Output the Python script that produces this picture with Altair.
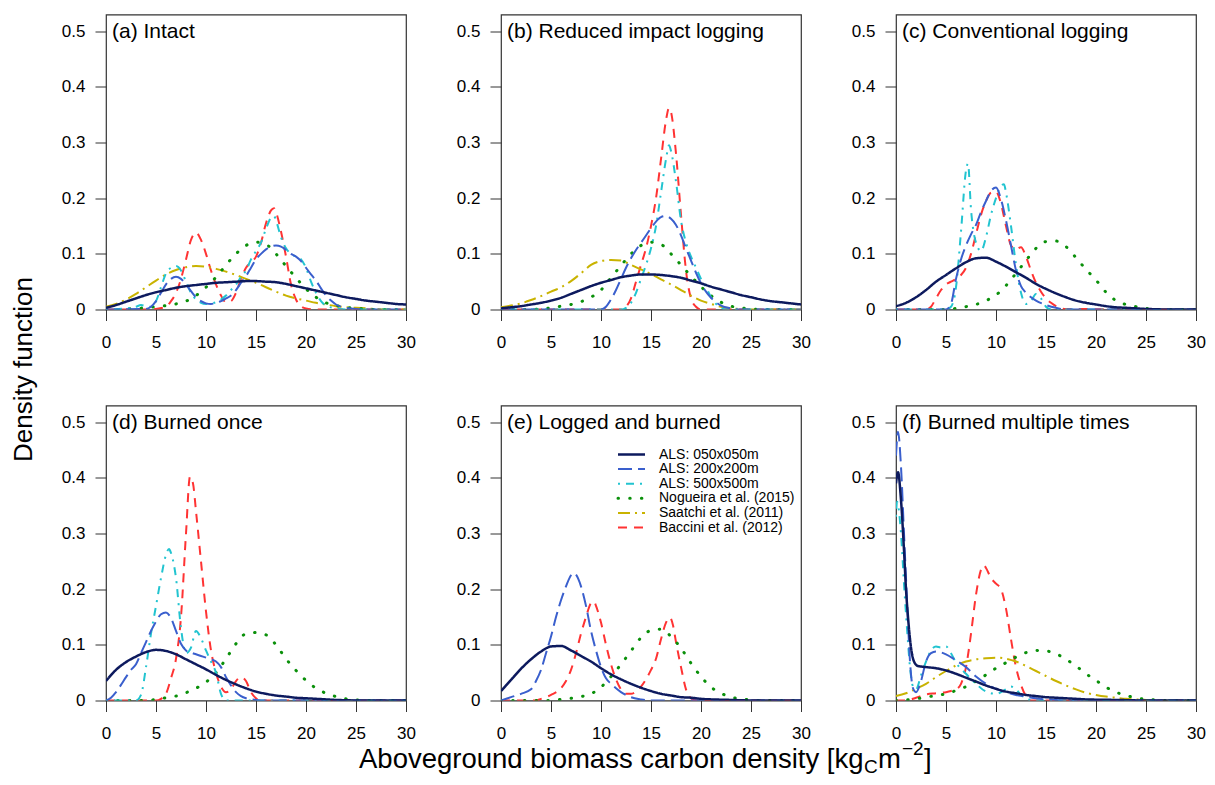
import altair as alt
import pandas as pd

FONT = "Liberation Sans"

SERIES = ["ALS: 050x050m", "ALS: 200x200m", "ALS: 500x500m",
          "Nogueira et al. (2015)", "Saatchi et al. (2011)", "Baccini et al. (2012)"]
KEYS = ["navy", "blue", "cyan", "green", "yellow", "red"]
COLORS = {"navy": "#0d1a5e", "blue": "#3a5fcd", "cyan": "#22c4d0",
          "green": "#0a900a", "yellow": "#c9b300", "red": "#ff3333"}
DASHES = {"navy": [1, 0], "blue": [14, 6], "cyan": [2, 6, 8, 6],
          "green": [0.5, 11.2], "yellow": [12, 5, 2, 5], "red": [9, 7]}
WIDTHS = {"navy": 2.5, "blue": 2, "cyan": 2, "green": 3, "yellow": 2, "red": 2}
CAPS = {"navy": "butt", "blue": "butt", "cyan": "butt", "green": "round",
        "yellow": "butt", "red": "butt"}
DRAW_ORDER = ["red", "yellow", "green", "cyan", "blue", "navy"]

PANEL_TITLES = ["(a) Intact", "(b) Reduced impact logging", "(c) Conventional logging",
                "(d) Burned once", "(e) Logged and burned", "(f) Burned multiple times"]
X_TICKS = [0, 5, 10, 15, 20, 25, 30]
Y_TICKS = [0, 0.1, 0.2, 0.3, 0.4, 0.5]
XI = list(range(31))

# ---------------- (a) Intact ----------------
A_NAVY_X = XI
A_NAVY_Y = [0.003, 0.008, 0.014, 0.020, 0.026, 0.031, 0.035, 0.039, 0.042, 0.044, 0.046,
            0.048, 0.049, 0.050, 0.051, 0.051, 0.050, 0.049, 0.046, 0.042, 0.038,
            0.034, 0.030, 0.026, 0.022, 0.019, 0.016, 0.014, 0.012, 0.010, 0.009]
A_BLUE_X = [0, 4, 4.5, 5, 5.5, 6, 6.5, 7, 7.5, 8, 8.5, 9, 9.5, 10, 10.5, 11, 11.5, 12, 12.5, 13,
            13.5, 14, 14.5, 15, 15.5, 16, 16.5, 17, 17.5, 18, 18.5, 19, 19.5, 20, 20.5, 21, 21.5,
            22, 22.5, 23, 24, 25, 26, 30]
A_BLUE_Y = [0, 0.001, 0.005, 0.015, 0.03, 0.045, 0.055, 0.059, 0.055, 0.045, 0.033, 0.022, 0.015,
            0.011, 0.01, 0.012, 0.015, 0.02, 0.025, 0.035, 0.048, 0.06, 0.075, 0.09, 0.1, 0.108,
            0.113, 0.115, 0.113, 0.107, 0.1, 0.095, 0.087, 0.075, 0.063, 0.052, 0.038, 0.025,
            0.016, 0.009, 0.003, 0.001, 0, 0]
A_CYAN_X = [0, 2, 3, 3.5, 4, 4.5, 5, 5.5, 6, 6.5, 7, 7.5, 8, 8.5, 9, 9.5, 10, 10.5, 11, 11.5, 12,
            12.5, 13, 13.5, 14, 14.5, 15, 15.5, 16, 16.5, 16.8, 17, 17.5, 18, 18.5, 19, 19.5, 20,
            20.5, 21, 21.5, 22, 23, 24, 30]
A_CYAN_Y = [0, 0.002, 0.005, 0.008, 0.006, 0.005, 0.015, 0.04, 0.065, 0.075, 0.078, 0.07, 0.05,
            0.03, 0.018, 0.012, 0.01, 0.011, 0.013, 0.018, 0.025, 0.035, 0.045, 0.058, 0.07, 0.09,
            0.105, 0.12, 0.145, 0.165, 0.168, 0.16, 0.13, 0.11, 0.1, 0.095, 0.09, 0.075, 0.05,
            0.03, 0.015, 0.007, 0.002, 0, 0]
A_GREEN_X = XI
A_GREEN_Y = [0, 0, 0.001, 0.002, 0.003, 0.005, 0.007, 0.01, 0.015, 0.025, 0.04, 0.058, 0.08, 0.1,
             0.115, 0.121, 0.117, 0.1, 0.078, 0.057, 0.037, 0.022, 0.012, 0.007, 0.004, 0.002,
             0.001, 0, 0, 0, 0]
A_YELLOW_X = XI
A_YELLOW_Y = [0.005, 0.010, 0.018, 0.028, 0.040, 0.052, 0.063, 0.071, 0.076, 0.078, 0.077, 0.073,
              0.068, 0.062, 0.055, 0.048, 0.040, 0.032, 0.025, 0.020, 0.016, 0.012, 0.009, 0.006,
              0.004, 0.003, 0.002, 0.001, 0, 0, 0]
A_RED_X = [0, 4, 5, 6, 6.5, 7, 7.5, 8, 8.5, 9, 9.5, 10, 10.5, 11, 11.5, 12, 12.5, 13, 13.5, 14,
           14.5, 15, 15.5, 16, 16.5, 16.8, 17, 17.5, 18, 18.5, 19, 19.5, 20, 21, 30]
A_RED_Y = [0, 0, 0.001, 0.005, 0.015, 0.03, 0.055, 0.09, 0.125, 0.138, 0.125, 0.1, 0.07, 0.045,
           0.025, 0.013, 0.015, 0.03, 0.055, 0.075, 0.085, 0.095, 0.12, 0.155, 0.178, 0.182,
           0.175, 0.14, 0.095, 0.045, 0.018, 0.006, 0.002, 0, 0]

# ---------------- (b) Reduced impact logging ----------------
B_NAVY_X = XI
B_NAVY_Y = [0.002, 0.004, 0.006, 0.009, 0.012, 0.016, 0.021, 0.028, 0.035, 0.042, 0.048, 0.053,
            0.058, 0.061, 0.063, 0.063, 0.062, 0.060, 0.057, 0.052, 0.047, 0.041, 0.036, 0.031,
            0.026, 0.022, 0.018, 0.015, 0.013, 0.011, 0.009]
B_BLUE_X = [0, 10, 10.5, 11, 11.5, 12, 12.5, 13, 13.5, 14, 14.5, 15, 15.5, 16, 16.5, 17, 17.5, 18,
            18.5, 19, 19.5, 20, 20.5, 21, 21.5, 22, 23, 24, 30]
B_BLUE_Y = [0, 0, 0.005, 0.018, 0.035, 0.055, 0.075, 0.092, 0.107, 0.12, 0.133, 0.146, 0.158,
            0.166, 0.168, 0.163, 0.152, 0.133, 0.11, 0.088, 0.066, 0.047, 0.032, 0.021, 0.013,
            0.007, 0.002, 0, 0]
B_CYAN_X = [0, 12, 12.5, 13, 13.5, 14, 14.5, 15, 15.5, 16, 16.5, 16.8, 17, 17.5, 18, 18.5, 19,
            19.5, 20, 20.5, 21, 21.5, 22, 22.5, 30]
B_CYAN_Y = [0, 0, 0.003, 0.012, 0.03, 0.055, 0.08, 0.11, 0.15, 0.21, 0.27, 0.295, 0.285, 0.23,
            0.16, 0.12, 0.095, 0.075, 0.055, 0.04, 0.022, 0.01, 0.003, 0, 0]
B_GREEN_X = XI
B_GREEN_Y = [0, 0, 0, 0, 0.001, 0.003, 0.006, 0.009, 0.014, 0.022, 0.035, 0.057, 0.079, 0.100,
             0.115, 0.121, 0.117, 0.1, 0.08, 0.06, 0.041, 0.025, 0.013, 0.006, 0.003, 0.001,
             0, 0, 0, 0, 0]
B_YELLOW_X = XI
B_YELLOW_Y = [0.004, 0.007, 0.011, 0.017, 0.024, 0.032, 0.040, 0.051, 0.065, 0.080, 0.087, 0.089,
              0.088, 0.080, 0.072, 0.064, 0.054, 0.045, 0.035, 0.025, 0.016, 0.010, 0.005, 0.002,
              0.001, 0, 0, 0, 0, 0, 0]
B_RED_X = [0, 12, 12.5, 13, 13.5, 14, 14.5, 15, 15.5, 16, 16.5, 16.8, 17, 17.5, 18, 18.5, 19,
           19.5, 20, 30]
B_RED_Y = [0, 0, 0.005, 0.02, 0.05, 0.08, 0.11, 0.15, 0.2, 0.27, 0.34, 0.362, 0.355, 0.28, 0.17,
           0.07, 0.02, 0.005, 0, 0]

# ---------------- (c) Conventional logging ----------------
C_NAVY_X = XI
C_NAVY_Y = [0.006, 0.012, 0.022, 0.035, 0.050, 0.062, 0.074, 0.085, 0.092, 0.093, 0.086, 0.077,
            0.067, 0.057, 0.046, 0.037, 0.029, 0.022, 0.016, 0.012, 0.009, 0.006, 0.004, 0.003,
            0.002, 0.001, 0.0005, 0, 0, 0, 0]
C_BLUE_X = [0, 5, 5.5, 6, 6.5, 7, 7.5, 8, 8.5, 9, 9.5, 10, 10.5, 11, 11.5, 12, 12.5, 13, 13.5, 14,
            15, 16, 17, 30]
C_BLUE_Y = [0, 0, 0.01, 0.055, 0.09, 0.115, 0.135, 0.152, 0.175, 0.195, 0.213, 0.219, 0.198, 0.16,
            0.115, 0.07, 0.042, 0.03, 0.022, 0.016, 0.008, 0.003, 0, 0]
C_CYAN_X = [0, 5, 5.5, 6, 6.5, 7, 7.2, 7.5, 8, 8.5, 9, 9.5, 10, 10.5, 10.8, 11, 11.5, 12, 12.5,
            13, 13.5, 14, 14.5, 15, 15.5, 30]
C_CYAN_Y = [0, 0, 0.005, 0.04, 0.14, 0.25, 0.262, 0.18, 0.12, 0.105, 0.13, 0.17, 0.2, 0.222,
            0.225, 0.21, 0.15, 0.08, 0.03, 0.01, 0.015, 0.028, 0.02, 0.005, 0, 0]
C_GREEN_X = XI
C_GREEN_Y = [0, 0, 0, 0, 0, 0, 0.002, 0.005, 0.009, 0.016, 0.026, 0.043, 0.065, 0.088, 0.11,
             0.122, 0.123, 0.113, 0.093, 0.072, 0.053, 0.031, 0.016, 0.009, 0.005, 0.002, 0,
             0, 0, 0, 0]
C_RED_X = [0, 3, 3.5, 4, 4.5, 5, 5.5, 6, 6.5, 7, 7.5, 8, 8.5, 9, 9.5, 10, 10.5, 11, 11.5, 12,
           12.5, 13, 13.5, 14, 14.5, 15, 15.5, 16, 17, 30]
C_RED_Y = [0, 0, 0.005, 0.02, 0.035, 0.045, 0.05, 0.055, 0.062, 0.075, 0.1, 0.135, 0.17, 0.195,
           0.21, 0.212, 0.19, 0.15, 0.115, 0.108, 0.112, 0.095, 0.07, 0.048, 0.032, 0.02, 0.012,
           0.006, 0.001, 0]

# ---------------- (d) Burned once ----------------
D_NAVY_X = XI
D_NAVY_Y = [0.035, 0.055, 0.069, 0.079, 0.087, 0.091, 0.089, 0.083, 0.074, 0.065, 0.056, 0.046,
            0.037, 0.029, 0.022, 0.016, 0.012, 0.009, 0.007, 0.005, 0.004, 0.003, 0.002, 0.001,
            0.0005, 0, 0, 0, 0, 0, 0]
D_BLUE_X = [0, 0.5, 1, 1.5, 2, 2.5, 3, 3.5, 4, 4.5, 5, 5.5, 6, 6.5, 7, 7.5, 8, 8.5, 9, 9.5, 10,
            10.5, 11, 11.5, 12, 12.5, 13, 13.5, 14, 15, 16, 30]
D_BLUE_Y = [0, 0.005, 0.015, 0.028, 0.042, 0.055, 0.065, 0.085, 0.105, 0.125, 0.142, 0.155,
            0.158, 0.148, 0.125, 0.102, 0.09, 0.086, 0.083, 0.08, 0.077, 0.074, 0.07, 0.06,
            0.042, 0.027, 0.015, 0.008, 0.004, 0.001, 0, 0]
D_CYAN_X = [0, 3, 3.5, 4, 4.5, 5, 5.5, 6, 6.3, 6.5, 7, 7.5, 8, 8.5, 9, 9.5, 10, 10.5, 11, 11.5,
            12, 30]
D_CYAN_Y = [0, 0, 0.01, 0.06, 0.12, 0.17, 0.22, 0.262, 0.272, 0.265, 0.22, 0.13, 0.085, 0.095,
            0.125, 0.112, 0.09, 0.07, 0.05, 0.012, 0, 0]
D_GREEN_X = XI
D_GREEN_Y = [0, 0, 0, 0, 0, 0.002, 0.005, 0.008, 0.014, 0.022, 0.033, 0.05, 0.075, 0.102, 0.12,
             0.122, 0.118, 0.1, 0.075, 0.054, 0.036, 0.022, 0.013, 0.007, 0.003, 0.001, 0, 0,
             0, 0, 0]
D_RED_X = [0, 5, 5.5, 6, 6.5, 7, 7.5, 8, 8.4, 8.7, 9, 9.5, 10, 10.5, 11, 11.5, 12, 12.5, 13, 13.5,
           14, 14.5, 15, 15.5, 30]
D_RED_Y = [0, 0, 0.003, 0.012, 0.04, 0.075, 0.15, 0.3, 0.402, 0.39, 0.34, 0.25, 0.16, 0.09, 0.05,
           0.025, 0.015, 0.02, 0.035, 0.042, 0.035, 0.015, 0.004, 0, 0]

# ---------------- (e) Logged and burned ----------------
E_NAVY_X = XI
E_NAVY_Y = [0.017, 0.037, 0.057, 0.074, 0.088, 0.097, 0.098, 0.09, 0.08, 0.07, 0.058, 0.047,
            0.038, 0.03, 0.023, 0.017, 0.012, 0.009, 0.006, 0.005, 0.003, 0.002, 0.0015, 0.001,
            0.0005, 0, 0, 0, 0, 0, 0]
E_BLUE_X = [0, 1, 2, 3, 3.5, 4, 4.5, 5, 5.5, 6, 6.5, 7, 7.3, 7.5, 8, 8.5, 9, 9.5, 10, 10.5, 11,
            11.5, 12, 12.5, 13, 14, 15, 30]
E_BLUE_Y = [0, 0.006, 0.012, 0.02, 0.035, 0.055, 0.085, 0.115, 0.15, 0.18, 0.205, 0.225, 0.229,
            0.226, 0.205, 0.17, 0.125, 0.09, 0.06, 0.04, 0.03, 0.022, 0.015, 0.01, 0.006, 0.002,
            0, 0]
E_GREEN_X = XI
E_GREEN_Y = [0, 0, 0, 0, 0, 0, 0.002, 0.004, 0.007, 0.012, 0.024, 0.043, 0.065, 0.089, 0.113,
             0.126, 0.128, 0.115, 0.094, 0.067, 0.043, 0.024, 0.013, 0.006, 0.003, 0.001, 0,
             0, 0, 0, 0]
E_RED_X = [0, 3.5, 4, 5, 6, 6.5, 7, 7.5, 8, 8.5, 9, 9.3, 9.5, 10, 10.5, 11, 11.5, 12, 12.5, 13,
           13.5, 14, 14.5, 15, 15.5, 16, 16.5, 16.9, 17.2, 17.5, 18, 18.5, 19, 19.5, 30]
E_RED_Y = [0, 0, 0.003, 0.01, 0.022, 0.035, 0.055, 0.085, 0.12, 0.15, 0.175, 0.178, 0.17, 0.14,
           0.1, 0.065, 0.038, 0.02, 0.012, 0.012, 0.016, 0.025, 0.038, 0.055, 0.075, 0.11, 0.14,
           0.149, 0.135, 0.105, 0.06, 0.02, 0.004, 0, 0]

# ---------------- (f) Burned multiple times ----------------
F_NAVY_X = [0, 0.2, 0.5, 0.8, 1, 1.2, 1.5, 1.8, 2.2, 3, 4, 5, 6, 7, 8, 9, 10, 11, 12, 13, 14, 15,
            16, 17, 18, 19, 20, 22, 25, 30]
F_NAVY_Y = [0.39, 0.41, 0.36, 0.27, 0.2, 0.15, 0.095, 0.07, 0.062, 0.06, 0.058, 0.054, 0.048,
            0.041, 0.034, 0.027, 0.021, 0.016, 0.013, 0.01, 0.008, 0.006, 0.005, 0.004, 0.003,
            0.002, 0.0015, 0.001, 0, 0]
F_BLUE_X = [0, 0.2, 0.5, 0.8, 1.1, 1.4, 1.7, 2, 2.5, 3, 3.5, 4, 5, 6, 7, 8, 9, 10, 11, 12, 13, 14,
            15, 16, 17, 30]
F_BLUE_Y = [0.44, 0.483, 0.42, 0.3, 0.18, 0.07, 0.022, 0.015, 0.035, 0.07, 0.085, 0.088, 0.083,
            0.072, 0.06, 0.043, 0.03, 0.021, 0.015, 0.01, 0.007, 0.004, 0.002, 0.001, 0, 0]
F_CYAN_X = [0, 0.1, 0.5, 0.8, 1.1, 1.4, 1.7, 2, 2.5, 3, 3.5, 4, 4.5, 5, 5.5, 6, 7, 8, 9, 10, 11,
            11.5, 12, 12.5, 13, 14, 30]
F_CYAN_Y = [0.33, 0.357, 0.3, 0.21, 0.13, 0.06, 0.025, 0.02, 0.045, 0.07, 0.09, 0.097, 0.095,
            0.097, 0.085, 0.068, 0.048, 0.03, 0.016, 0.012, 0.02, 0.025, 0.02, 0.01, 0.003, 0, 0]
F_GREEN_X = XI
F_GREEN_Y = [0, 0.001, 0.003, 0.006, 0.009, 0.012, 0.018, 0.025, 0.035, 0.046, 0.058, 0.068,
             0.078, 0.086, 0.09, 0.089, 0.084, 0.074, 0.062, 0.048, 0.036, 0.024, 0.015, 0.009,
             0.005, 0.002, 0.001, 0, 0, 0, 0]
F_YELLOW_X = XI
F_YELLOW_Y = [0.008, 0.013, 0.021, 0.03, 0.042, 0.053, 0.063, 0.07, 0.074, 0.076, 0.077, 0.075,
              0.07, 0.062, 0.053, 0.044, 0.035, 0.027, 0.02, 0.014, 0.01, 0.007, 0.005, 0.003,
              0.002, 0.001, 0, 0, 0, 0, 0]
F_RED_X = [0, 1, 2, 3, 4, 5, 5.5, 6, 6.5, 7, 7.5, 8, 8.5, 8.8, 9, 9.5, 10, 10.5, 11, 11.5, 12,
           12.5, 13, 13.5, 30]
F_RED_Y = [0, 0, 0.005, 0.011, 0.013, 0.015, 0.017, 0.02, 0.03, 0.06, 0.12, 0.19, 0.235, 0.243,
           0.238, 0.22, 0.21, 0.2, 0.165, 0.11, 0.06, 0.028, 0.008, 0, 0]

PANELS = [
    {"navy": (A_NAVY_X, A_NAVY_Y), "blue": (A_BLUE_X, A_BLUE_Y), "cyan": (A_CYAN_X, A_CYAN_Y),
     "green": (A_GREEN_X, A_GREEN_Y), "yellow": (A_YELLOW_X, A_YELLOW_Y), "red": (A_RED_X, A_RED_Y)},
    {"navy": (B_NAVY_X, B_NAVY_Y), "blue": (B_BLUE_X, B_BLUE_Y), "cyan": (B_CYAN_X, B_CYAN_Y),
     "green": (B_GREEN_X, B_GREEN_Y), "yellow": (B_YELLOW_X, B_YELLOW_Y), "red": (B_RED_X, B_RED_Y)},
    {"navy": (C_NAVY_X, C_NAVY_Y), "blue": (C_BLUE_X, C_BLUE_Y), "cyan": (C_CYAN_X, C_CYAN_Y),
     "green": (C_GREEN_X, C_GREEN_Y), "red": (C_RED_X, C_RED_Y)},
    {"navy": (D_NAVY_X, D_NAVY_Y), "blue": (D_BLUE_X, D_BLUE_Y), "cyan": (D_CYAN_X, D_CYAN_Y),
     "green": (D_GREEN_X, D_GREEN_Y), "red": (D_RED_X, D_RED_Y)},
    {"navy": (E_NAVY_X, E_NAVY_Y), "blue": (E_BLUE_X, E_BLUE_Y),
     "green": (E_GREEN_X, E_GREEN_Y), "red": (E_RED_X, E_RED_Y)},
    {"navy": (F_NAVY_X, F_NAVY_Y), "blue": (F_BLUE_X, F_BLUE_Y), "cyan": (F_CYAN_X, F_CYAN_Y),
     "green": (F_GREEN_X, F_GREEN_Y), "yellow": (F_YELLOW_X, F_YELLOW_Y), "red": (F_RED_X, F_RED_Y)},
]

W, H = 300, 295

x_enc = alt.X("x:Q", scale=alt.Scale(domain=[0, 30], nice=False, zero=False),
              axis=alt.Axis(values=X_TICKS, title=None, grid=False, domain=False, tickSize=11,
                            tickColor="#333", tickWidth=1, labelFontSize=17, labelPadding=14,
                            labelColor="black", labelFont=FONT, format="d",
                            labelFlush=False, labelOverlap=False))
y_enc = alt.Y("y:Q", scale=alt.Scale(domain=[0, 0.53], nice=False, zero=False),
              axis=alt.Axis(values=Y_TICKS, title=None, grid=False, domain=False, tickSize=11,
                            tickColor="#333", tickWidth=1, labelFontSize=17, labelPadding=10,
                            labelColor="black", labelFont=FONT, format=".1~f",
                            labelFlush=False, labelOverlap=False))


def text_layer(txt, x, y, size, align="left", baseline="alphabetic", angle=0):
    kw = dict(align=align, baseline=baseline, fontSize=size, font=FONT, color="black")
    if angle:
        kw["angle"] = angle
    return alt.Chart(pd.DataFrame({"t": [txt]})).mark_text(**kw).encode(
        x=alt.value(x), y=alt.value(y), text="t:N")


def panel(i):
    layers = []
    for k in DRAW_ORDER:
        if k not in PANELS[i]:
            continue
        xs, ys = PANELS[i][k]
        df = pd.DataFrame({"x": xs, "y": ys})
        layers.append(
            alt.Chart(df).mark_line(interpolate="monotone", color=COLORS[k],
                                    strokeDash=DASHES[k], strokeWidth=WIDTHS[k],
                                    strokeCap=CAPS[k], clip=True)
            .encode(x=x_enc, y=y_enc)
        )
    layers.append(text_layer(PANEL_TITLES[i], 6, 23, 21))
    if i == 3:
        layers.append(text_layer("Density function", -82, -36, 26, align="center",
                                 baseline="middle", angle=270))
    if i == 4:
        # legend
        for j, k in enumerate(KEYS):
            yy = 49 + 14.6 * j
            layers.append(
                alt.Chart(pd.DataFrame({"a": [0]})).mark_rule(
                    color=COLORS[k], strokeDash=DASHES[k], strokeWidth=WIDTHS[k],
                    strokeCap=CAPS[k])
                .encode(x=alt.value(117), x2=alt.value(144), y=alt.value(yy))
            )
            layers.append(text_layer(SERIES[j], 158, yy, 14, baseline="middle"))
        # x-axis title with sub/superscripts
        layers.append(text_layer("Aboveground biomass carbon density [kg", -142, 362, 27.5))
        layers.append(text_layer("C", 363, 367, 19))
        layers.append(text_layer("m", 377, 362, 27.5))
        layers.append(text_layer("\u22122", 401, 349, 19))
        layers.append(text_layer("]", 423, 362, 27.5))
    return alt.layer(*layers).properties(width=W, height=H)


chart = (
    alt.concat(*[panel(i) for i in range(6)], columns=3,
               spacing={"row": 96, "column": 95}, bounds="flush")
    .properties(padding={"left": 2, "top": 5.5, "right": 0, "bottom": 0}, background="white")
    .configure(font=FONT)
    .configure_view(stroke="#333", strokeWidth=1.2)
)

chart.save("out.html", embed_options={"renderer": "svg", "actions": False})
